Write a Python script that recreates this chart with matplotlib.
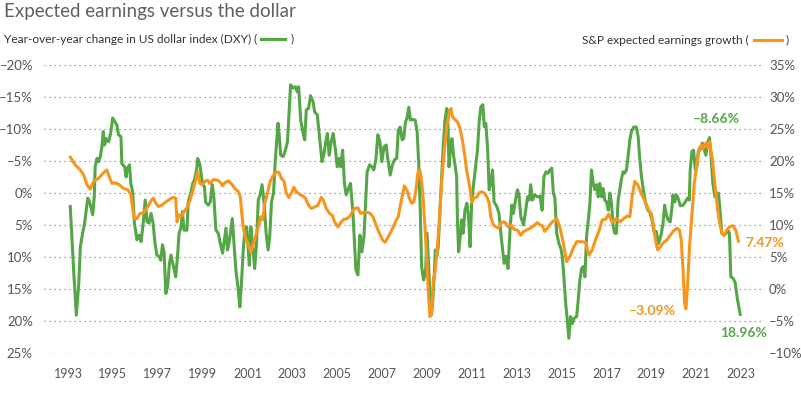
import matplotlib
matplotlib.use("Agg")
import matplotlib.pyplot as plt
from matplotlib.lines import Line2D

plt.rcParams['font.family'] = ['Lato', 'DejaVu Sans']

# US dollar index (DXY), year-over-year change in %, plotted on an inverted left axis
dxy_years = [
    1993.10, 1993.25, 1993.37, 1993.48, 1993.55, 1993.65, 1993.74, 1993.88, 1993.96,
    1994.10, 1994.17, 1994.21, 1994.29, 1994.36, 1994.44, 1994.51, 1994.57, 1994.63, 1994.70, 1994.81, 1994.90, 1994.99,
    1995.10, 1995.18, 1995.25, 1995.36, 1995.40, 1995.52, 1995.59, 1995.65, 1995.74, 1995.80, 1995.88, 1995.96,
    1996.07, 1996.17, 1996.26, 1996.35, 1996.44, 1996.52, 1996.61, 1996.70, 1996.79, 1996.88, 1996.96,
    1997.06, 1997.13, 1997.21, 1997.28, 1997.36, 1997.44, 1997.52, 1997.59, 1997.70, 1997.80, 1997.88, 1997.95,
    1998.04, 1998.10, 1998.17, 1998.30, 1998.36, 1998.47, 1998.56, 1998.63, 1998.73, 1998.78, 1998.88, 1998.99,
    1999.08, 1999.13, 1999.25, 1999.34, 1999.43, 1999.50, 1999.59, 1999.70, 1999.80, 1999.89, 1999.96,
    2000.04, 2000.11, 2000.20, 2000.32, 2000.41, 2000.48, 2000.59, 2000.66, 2000.73, 2000.81, 2000.88, 2000.96,
    2001.00, 2001.08, 2001.15, 2001.22, 2001.32, 2001.40, 2001.48, 2001.56, 2001.65, 2001.74, 2001.83, 2001.92, 2001.99,
    2002.07, 2002.16, 2002.24, 2002.32, 2002.36, 2002.42, 2002.48, 2002.59, 2002.69, 2002.78, 2002.85, 2002.92,
    2003.03, 2003.13, 2003.22, 2003.28, 2003.37, 2003.48, 2003.55, 2003.62, 2003.72, 2003.81, 2003.92, 2003.99,
    2004.11, 2004.21, 2004.32, 2004.41, 2004.48, 2004.56, 2004.64, 2004.73, 2004.82, 2004.92,
    2005.00, 2005.08, 2005.15, 2005.24, 2005.32, 2005.40, 2005.50, 2005.59, 2005.70, 2005.77, 2005.83, 2005.92,
    2006.01, 2006.10, 2006.19, 2006.26, 2006.33, 2006.44, 2006.54, 2006.63, 2006.72, 2006.81, 2006.90, 2006.99,
    2007.08, 2007.18, 2007.25, 2007.36, 2007.46, 2007.55, 2007.65, 2007.72, 2007.80, 2007.89, 2007.96,
    2008.04, 2008.11, 2008.19, 2008.26, 2008.36, 2008.47, 2008.56, 2008.63, 2008.70, 2008.76, 2008.85, 2008.94,
    2009.00, 2009.18, 2009.25, 2009.32, 2009.37, 2009.44, 2009.50, 2009.58, 2009.65, 2009.72, 2009.80, 2009.88, 2009.92, 2009.98,
    2010.04, 2010.11, 2010.19, 2010.26, 2010.32, 2010.36, 2010.41, 2010.48, 2010.54, 2010.61, 2010.69, 2010.78, 2010.85, 2010.92, 2010.99,
    2011.08, 2011.18, 2011.25, 2011.32, 2011.40, 2011.49, 2011.55, 2011.62, 2011.70, 2011.77, 2011.84, 2011.92, 2011.99,
    2012.11, 2012.21, 2012.32, 2012.44, 2012.52, 2012.61, 2012.70, 2012.78, 2012.85, 2012.92,
    2013.03, 2013.10, 2013.18, 2013.30, 2013.40, 2013.48, 2013.56, 2013.62, 2013.70, 2013.80, 2013.92,
    2014.04, 2014.13, 2014.21, 2014.30, 2014.39, 2014.48, 2014.56, 2014.63, 2014.70, 2014.78, 2014.88, 2014.96,
    2015.03, 2015.10, 2015.18, 2015.25, 2015.32, 2015.40, 2015.48, 2015.55, 2015.67, 2015.74, 2015.81, 2015.89, 2015.96,
    2016.04, 2016.11, 2016.19, 2016.26, 2016.33, 2016.41, 2016.48, 2016.56, 2016.63, 2016.70, 2016.78, 2016.85, 2016.92,
    2017.00, 2017.08, 2017.15, 2017.22, 2017.30, 2017.37, 2017.44, 2017.52, 2017.59, 2017.67, 2017.74, 2017.81, 2017.89, 2017.96,
    2018.04, 2018.11, 2018.21, 2018.33, 2018.41, 2018.48, 2018.56, 2018.66, 2018.75, 2018.84, 2018.92,
    2019.03, 2019.13, 2019.22, 2019.32, 2019.43, 2019.52, 2019.59, 2019.67, 2019.74, 2019.84, 2019.92, 2019.96,
    2020.04, 2020.11, 2020.19, 2020.29, 2020.41, 2020.51, 2020.61, 2020.69, 2020.73, 2020.81, 2020.88, 2020.96,
    2021.03, 2021.09, 2021.18, 2021.27, 2021.36, 2021.43, 2021.50, 2021.59, 2021.67, 2021.74, 2021.83, 2021.92, 2021.99,
    2022.07, 2022.14, 2022.24, 2022.33, 2022.41, 2022.48, 2022.54, 2022.63, 2022.73, 2022.84, 2022.96,
]
dxy_change = [
    2.1, 12.0, 19.1, 14.1, 8.4, 6.3, 4.7, 0.8, 1.4,
    3.4, 0.6, -4.1, -5.4, -4.9, -5.7, -7.2, -9.6, -7.5, -8.5, -8.0, -9.3, -11.7,
    -11.1, -10.6, -9.1, -8.8, -4.6, -4.1, -2.5, -3.9, -4.4, -1.5, -0.2, 4.7,
    7.3, 6.6, 7.6, 4.7, 1.1, 4.5, 4.7, 3.2, 4.7, 7.9, 9.7,
    9.9, 10.5, 8.1, 9.2, 15.7, 14.6, 11.0, 9.7, 11.5, 13.1, 9.9, 6.3,
    5.3, 2.9, 5.8, 5.8, 1.4, 0.0, -1.5, -2.0, -3.6, -5.4, -4.4, -1.5,
    -1.0, 1.4, 1.9, 1.4, -1.3, 0.6, 5.8, 6.3, 8.1, 9.4, 7.6,
    5.5, 8.9, 7.3, 4.0, 8.4, 12.0, 15.2, 17.8, 14.1, 8.9, 5.8, 5.3,
    6.8, 11.3, 5.3, 7.9, 11.8, 7.9, 1.1, 0.3, -1.3, 1.6, 6.3, 8.9, 6.8,
    1.4, 0.0, -5.2, -9.1, -10.9, -8.8, -5.9, -5.7, -6.7, -8.0, -12.5, -16.9,
    -16.4, -16.6, -15.8, -16.6, -11.4, -9.3, -8.3, -13.0, -13.2, -15.2, -14.3, -12.7,
    -12.2, -8.8, -4.9, -6.2, -7.8, -9.3, -5.9, -8.0, -9.3, -6.7,
    -4.1, -5.4, -4.1, -6.7, -1.5, 0.3, -0.7, -1.5, 3.2, 7.9, 12.0, 12.8,
    6.6, 9.2, 6.8, 1.6, -3.3, -4.4, -4.1, -3.6, -5.2, -9.1, -8.0, -4.9,
    -7.2, -7.5, -5.4, -2.8, -4.4, -5.2, -5.4, -9.8, -10.3, -8.3, -8.5,
    -11.1, -11.7, -13.4, -11.4, -11.5, -11.4, -9.6, -4.6, 2.7, 11.5, 13.6, 12.0,
    6.3, 19.1, 17.2, 13.1, 8.9, 9.9, 8.4, 2.7, -2.0, -7.2, -11.4, -13.2, -12.5, -4.1,
    -6.7, -8.5, -5.7, -4.1, -2.5, 4.7, 9.2, 6.8, 4.2, 6.3, 2.7, 1.6, 3.7, 8.4, 1.6,
    -1.5, -4.6, -6.7, -10.9, -13.5, -13.8, -10.4, -10.9, -7.0, -0.5, -1.5, -3.6, 1.4,
    2.1, 3.2, 7.3, 11.0, 9.9, 11.8, 5.8, 1.9, 3.2, 1.6,
    -0.5, 0.3, 3.7, 5.0, 2.7, 0.6, 1.1, -1.3, 1.1, 0.3, 0.6,
    0.5, 2.7, -2.5, -3.3, -3.1, -3.6, -3.9, 0.0, 0.8, 6.3, 7.9, 8.6,
    9.9, 13.1, 17.2, 19.8, 22.7, 19.3, 20.4, 19.6, 19.3, 16.7, 13.6, 11.8, 11.5,
    13.1, 6.8, 4.2, 1.6, -3.6, -1.5, -0.5, -1.3, 0.6, -1.5, 0.6, -0.7, 1.1,
    1.4, 2.7, 0.0, 1.6, 5.3, 6.3, 6.3, 1.1, -0.5, -2.3, -3.3, -3.1, -3.6, -5.7,
    -8.3, -9.6, -10.3, -10.3, -8.8, -5.4, -2.5, 0.0, 1.6, 2.7, 2.9,
    4.2, 6.3, 6.0, 7.9, 6.6, 4.7, 1.9, 3.4, 4.2, 4.5, 2.1, 0.3,
    1.4, 0.3, 0.8, 2.0, 1.9, 1.4, 0.8, 1.1, -3.6, -6.5, -6.7, -3.6,
    -4.1, -6.5, -6.8, -7.8, -6.7, -5.9, -7.8, -8.66, -5.2, -1.5, 0.6, 0.8, 0.0,
    3.2, 6.3, 6.6, 6.3, 5.8, 6.3, 13.1, 13.3, 13.9, 16.7, 18.96,
]

# S&P 500 expected earnings growth in %, right axis
eps_years = [
    1993.10, 1993.32, 1993.55, 1993.70, 1993.84, 1993.99,
    1994.14, 1994.36, 1994.59, 1994.73, 1994.84, 1994.96,
    1995.10, 1995.28, 1995.48, 1995.67, 1995.80, 1995.89, 1995.96,
    1996.07, 1996.21, 1996.36, 1996.56, 1996.70, 1996.81, 1996.91,
    1997.03, 1997.18, 1997.32, 1997.48, 1997.67, 1997.80, 1997.86, 1997.95,
    1998.07, 1998.21, 1998.29, 1998.44, 1998.59, 1998.69, 1998.78, 1998.88, 1998.99,
    1999.10, 1999.22, 1999.32, 1999.48, 1999.67, 1999.81, 1999.89, 1999.99,
    2000.14, 2000.29, 2000.44, 2000.59, 2000.68, 2000.73, 2000.81, 2000.91,
    2001.03, 2001.15, 2001.25, 2001.36, 2001.48, 2001.59, 2001.68, 2001.77, 2001.89,
    2002.01, 2002.14, 2002.29, 2002.41, 2002.51, 2002.63, 2002.73, 2002.84, 2002.96,
    2003.06, 2003.18, 2003.32, 2003.48, 2003.58, 2003.72, 2003.84, 2003.99,
    2004.14, 2004.29, 2004.39, 2004.51, 2004.66, 2004.78, 2004.88,
    2005.03, 2005.18, 2005.30, 2005.44, 2005.59, 2005.70, 2005.80, 2005.92,
    2006.04, 2006.21, 2006.44, 2006.59, 2006.73, 2006.88,
    2007.03, 2007.13, 2007.28, 2007.43, 2007.58, 2007.72, 2007.84, 2007.99,
    2008.11, 2008.21, 2008.32, 2008.41, 2008.51, 2008.59, 2008.68, 2008.76, 2008.84, 2008.91, 2008.99,
    2009.06, 2009.13, 2009.21, 2009.28, 2009.36, 2009.44, 2009.55, 2009.65, 2009.77, 2009.89, 2009.99,
    2010.07, 2010.14, 2010.26, 2010.36, 2010.47, 2010.59, 2010.69, 2010.76, 2010.85, 2010.92, 2010.99,
    2011.10, 2011.22, 2011.32, 2011.43, 2011.55, 2011.67, 2011.77, 2011.84, 2011.96,
    2012.07, 2012.19, 2012.29, 2012.41, 2012.51, 2012.61, 2012.76, 2012.88,
    2013.03, 2013.18, 2013.32, 2013.48, 2013.65, 2013.80, 2013.92,
    2014.04, 2014.14, 2014.24, 2014.36, 2014.59, 2014.78, 2014.92,
    2015.08, 2015.22, 2015.37, 2015.52, 2015.67, 2015.84,
    2016.07, 2016.21, 2016.36, 2016.51, 2016.66, 2016.81, 2016.96,
    2017.10, 2017.25, 2017.44, 2017.59, 2017.77, 2017.92,
    2018.04, 2018.14, 2018.26, 2018.39, 2018.54, 2018.69, 2018.88, 2018.99,
    2019.08, 2019.18, 2019.28, 2019.40, 2019.55, 2019.70, 2019.84, 2019.99,
    2020.14, 2020.25, 2020.33, 2020.41, 2020.48, 2020.54, 2020.61, 2020.70, 2020.81, 2020.91,
    2021.03, 2021.13, 2021.25, 2021.32, 2021.43, 2021.52, 2021.59, 2021.70, 2021.80, 2021.92,
    2022.04, 2022.14, 2022.24, 2022.36, 2022.48, 2022.63, 2022.76, 2022.88,
]
eps_growth = [
    20.6, 19.4, 18.6, 17.8, 16.3, 15.6,
    16.8, 17.3, 18.2, 18.6, 17.5, 16.5,
    16.6, 16.3, 15.7, 15.5, 14.7, 12.3, 11.0,
    11.0, 11.8, 11.9, 12.9, 13.8, 14.2, 13.4,
    12.9, 13.1, 13.5, 13.9, 14.3, 14.2, 10.5, 11.6,
    11.4, 12.3, 12.6, 13.9, 15.7, 17.0, 18.3, 16.5, 16.3,
    16.8, 17.0, 16.5, 17.1, 17.0, 16.6, 16.1, 16.6,
    16.9, 16.4, 15.7, 15.2, 14.4, 12.3, 9.7, 7.9,
    7.1, 5.7, 6.9, 8.2, 9.7, 11.3, 10.8, 13.4, 15.0,
    16.8, 17.7, 18.3, 18.2, 17.3, 16.8, 15.0, 14.3, 15.0,
    15.9, 15.2, 14.8, 14.5, 14.2, 13.1, 12.6, 12.8,
    13.1, 14.3, 13.8, 12.6, 11.8, 11.5, 10.5,
    9.7, 10.5, 10.9, 11.0, 11.5, 12.3, 12.6, 12.7,
    11.8, 12.0, 11.9, 11.3, 10.0, 8.7,
    7.6, 7.3, 8.2, 9.2, 10.4, 11.3, 13.6, 16.1,
    15.4, 14.2, 13.4, 13.6, 15.5, 18.1, 18.6, 16.8, 13.5, 9.7, 4.5,
    -0.7, -4.3, -3.8, 1.4, 2.7, 5.6, 10.8, 16.5, 21.7, 25.6, 27.5,
    28.2, 26.9, 26.4, 26.1, 25.1, 23.0, 20.7, 18.6, 17.0, 15.5, 13.6,
    14.2, 14.4, 15.0, 15.2, 15.0, 14.4, 13.4, 11.3, 10.0,
    9.7, 9.5, 10.3, 10.5, 10.3, 9.7, 10.0, 9.3,
    9.2, 8.4, 9.0, 9.3, 9.6, 10.0, 10.4,
    10.0, 9.9, 9.0, 9.5, 10.5, 11.0, 9.7,
    7.1, 4.3, 5.1, 6.4, 7.4, 7.4,
    7.3, 5.3, 6.1, 7.7, 9.0, 10.8, 10.9,
    11.7, 10.4, 11.0, 10.5, 11.0, 11.4,
    11.3, 14.4, 16.8, 16.3, 15.0, 13.9, 12.3, 11.8,
    10.3, 7.7, 6.1, 6.6, 7.3, 7.7, 8.4, 9.1,
    9.5, 9.2, 7.7, 3.0, -2.2, -3.09, 0.4, 6.6, 11.8, 16.5,
    19.6, 22.0, 22.5, 22.0, 22.8, 22.0, 23.0, 20.7, 17.6, 13.4,
    10.3, 8.7, 8.4, 9.2, 9.7, 9.9, 9.2, 7.47,
]

left_ticks = [-20, -15, -10, -5, 0, 5, 10, 15, 20, 25]
right_ticks = [35, 30, 25, 20, 15, 10, 5, 0, -5, -10]
year_ticks = list(range(1993, 2024, 2))

GREEN = '#55a646'
ORANGE = '#f7961e'
TEXT = '#555555'


def pct(v):
    return f"{v}%".replace('-', '\u2013')


fig = plt.figure(figsize=(8.01, 3.93), dpi=100)
ax = fig.add_axes([44 / 801, 1 - 353 / 393, 718 / 801, 288 / 393])
ax2 = ax.twinx()

ax.set_xlim(1991.93, 2023.93)
ax.set_ylim(25, -20)
ax2.set_ylim(-10, 35)

ax.set_yticks(left_ticks)
ax.set_yticklabels([pct(v) for v in left_ticks])
ax2.set_yticks(right_ticks)
ax2.set_yticklabels([pct(v) for v in right_ticks])
ax.set_xticks(year_ticks)
ax.set_xticklabels([str(y) for y in year_ticks])

ax.grid(axis='y', color='#8a8a8a', linestyle=(0, (1, 3)), linewidth=0.9)
for a in (ax, ax2):
    for s in a.spines.values():
        s.set_visible(False)
ax.tick_params(axis='y', length=0, pad=8, labelsize=9.5, labelcolor=TEXT)
ax2.tick_params(axis='y', length=0, pad=5, labelsize=9.5, labelcolor=TEXT)
ax.tick_params(axis='x', length=0, pad=11, labelsize=9, labelcolor=TEXT)

ax.plot(dxy_years, dxy_change, color=GREEN, lw=2.2, solid_joinstyle='round', zorder=3)
ax2.plot(eps_years, eps_growth, color=ORANGE, lw=2.2, solid_joinstyle='round', zorder=4)

# end-point annotations
ax.text(2021.9, -11.6, pct(-8.66), color=GREEN, fontsize=10, fontweight='bold',
        ha='center', va='center', clip_on=False)
ax.text(2023.1, 21.9, pct(18.96), color=GREEN, fontsize=10, fontweight='bold',
        ha='center', va='center', clip_on=False)
ax2.text(2023.18, 7.2, pct(7.47), color=ORANGE, fontsize=10, fontweight='bold',
         ha='left', va='center', clip_on=False)
ax2.text(2020.07, -3.45, pct(-3.09), color=ORANGE, fontsize=10, fontweight='bold',
         ha='right', va='center', clip_on=False)

# title and series labels
fig.text(4 / 801, 1 - 12 / 393, 'Expected earnings versus the dollar', fontsize=13.5,
         color='#606060', ha='left', va='center')
lt = fig.text(4 / 801, 1 - 39 / 393, 'Year-over-year change in US dollar index (DXY) (',
              fontsize=8.6, color='#333333', ha='left', va='center')
rt_close = fig.text(789 / 801, 1 - 40 / 393, ')', fontsize=8.6, color='#333333',
                    ha='right', va='center')

fig.canvas.draw()
r = fig.canvas.get_renderer()
bb = lt.get_window_extent(r)
x0 = bb.x1 + 4
ym = 1 - 39 / 393
fig.add_artist(Line2D([x0 / 801, (x0 + 24) / 801], [ym, ym], color=GREEN, lw=2.3,
                      transform=fig.transFigure))
fig.text((x0 + 29) / 801, ym, ')', fontsize=8.6, color='#333333', ha='left', va='center')

bb2 = rt_close.get_window_extent(r)
x1 = bb2.x0 - 4
ym2 = 1 - 40 / 393
fig.add_artist(Line2D([(x1 - 28) / 801, x1 / 801], [ym2, ym2], color=ORANGE, lw=2.3,
                      transform=fig.transFigure))
fig.text((x1 - 33) / 801, ym2, 'S&P expected earnings growth (', fontsize=8.6,
         color='#333333', ha='right', va='center')

fig.savefig('out.png', dpi=100)
